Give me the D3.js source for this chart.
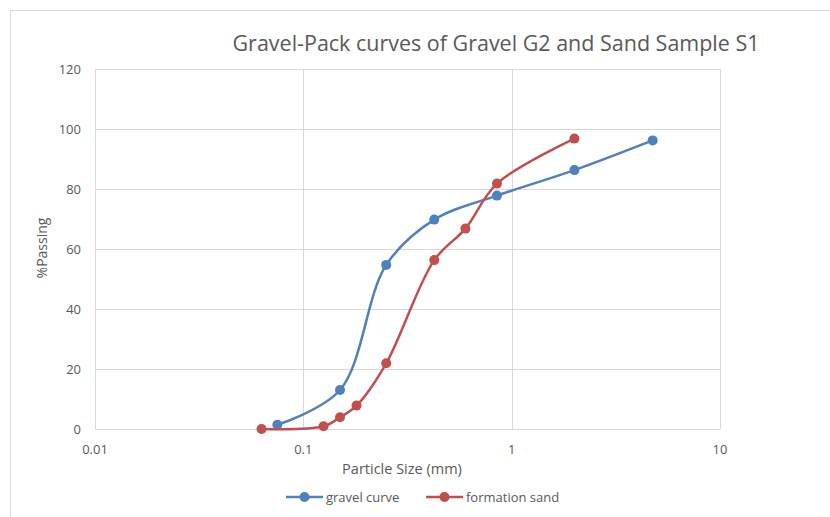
<!DOCTYPE html>
<html>
<head>
<meta charset="utf-8">
<script src="https://cdn.jsdelivr.net/npm/d3@7"></script>
<style>
body{margin:0;background:#fff;}
text{font-family:"Open Sans",sans-serif;fill:#595959;}
</style>
</head>
<body>
<div id="chart"></div>
<script>
///data
const gravelSize = [0.075, 0.15, 0.25, 0.425, 0.85, 2, 4.75];
const gravelPass = [1.4, 13, 54.7, 69.8, 77.8, 86.3, 96.2];
const sandSize = [0.063, 0.125, 0.15, 0.18, 0.25, 0.425, 0.6, 0.85, 2];
const sandPass = [0, 0.9, 3.9, 7.8, 21.9, 56.3, 66.8, 81.8, 96.8];
const xTicks = [0.01, 0.1, 1, 10];
const yTicks = [0, 20, 40, 60, 80, 100, 120];
const series = [
  {name: "gravel curve", color: "#4F81BD", x: gravelSize, y: gravelPass},
  {name: "formation sand", color: "#C0504D", x: sandSize, y: sandPass}
];

///vars
let w = 830, h = 517;
const plot = {left: 95, right: 720, top: 69, bottom: 429};

let svg = d3.select("#chart").append("svg")
  .attr("width", w).attr("height", h);

///border
svg.append("path")
  .attr("d", "M10.5," + h + "V10.5H" + w)
  .attr("fill", "none").attr("stroke", "#D9D9D9");

const x = d3.scaleLog().domain([0.01, 10]).range([plot.left, plot.right]);
const y = d3.scaleLinear().domain([0, 120]).range([plot.bottom, plot.top]);

///grid
svg.append("g").selectAll("line").data(yTicks).join("line")
  .attr("x1", plot.left).attr("x2", plot.right)
  .attr("y1", d => Math.round(y(d)) + 0.5).attr("y2", d => Math.round(y(d)) + 0.5)
  .attr("stroke", "#D9D9D9");
svg.append("g").selectAll("line").data(xTicks).join("line")
  .attr("y1", plot.top).attr("y2", plot.bottom)
  .attr("x1", d => Math.round(x(d)) + 0.5).attr("x2", d => Math.round(x(d)) + 0.5)
  .attr("stroke", "#D9D9D9");

///tick labels
svg.append("g").selectAll("text").data(yTicks).join("text")
  .attr("x", plot.left - 14).attr("y", d => y(d)).attr("dy", "0.35em")
  .attr("text-anchor", "end").style("font-size", "13px")
  .text(d => d);
svg.append("g").selectAll("text").data(xTicks).join("text")
  .attr("x", d => x(d)).attr("y", plot.bottom + 20).attr("dy", "0.35em")
  .attr("text-anchor", "middle").style("font-size", "13px")
  .text(d => d);

///titles
svg.append("text")
  .attr("x", 496).attr("y", 51).attr("text-anchor", "middle")
  .attr("textLength", 527).attr("lengthAdjust", "spacingAndGlyphs")
  .style("font-size", "21px")
  .text("Gravel-Pack curves of Gravel G2 and Sand Sample S1");
svg.append("text")
  .attr("x", 402).attr("y", 469).attr("dy", "0.35em").attr("text-anchor", "middle")
  .style("font-size", "14.5px")
  .text("Particle Size (mm)");
svg.append("text")
  .attr("transform", "translate(42,248) rotate(-90)")
  .attr("dy", "0.35em").attr("text-anchor", "middle")
  .style("font-size", "14px")
  .text("%Passing");

///lines
const line = d3.line()
  .x(d => x(d[0])).y(d => y(d[1]))
  .curve(d3.curveCatmullRom.alpha(0.5));

series.forEach(s => {
  const pts = s.x.map((v, i) => [v, s.y[i]]);
  svg.append("path").datum(pts)
    .attr("d", line).attr("fill", "none")
    .attr("stroke", s.color).attr("stroke-width", 2.5);
  svg.append("g").selectAll("circle").data(pts).join("circle")
    .attr("cx", d => x(d[0])).attr("cy", d => y(d[1])).attr("r", 5)
    .attr("fill", s.color);
});

///legend
const legendX = [286, 426];
let legend = svg.append("g").selectAll("g").data(series).join("g")
  .attr("transform", (d, i) => "translate(" + legendX[i] + ",497)");
legend.append("line").attr("x1", 0).attr("x2", 37)
  .attr("stroke", d => d.color).attr("stroke-width", 2.5);
legend.append("circle").attr("cx", 18.5).attr("r", 5).attr("fill", d => d.color);
legend.append("text").attr("x", 40).attr("dy", "0.35em")
  .style("font-size", "13px").text(d => d.name);
</script>
</body>
</html>
